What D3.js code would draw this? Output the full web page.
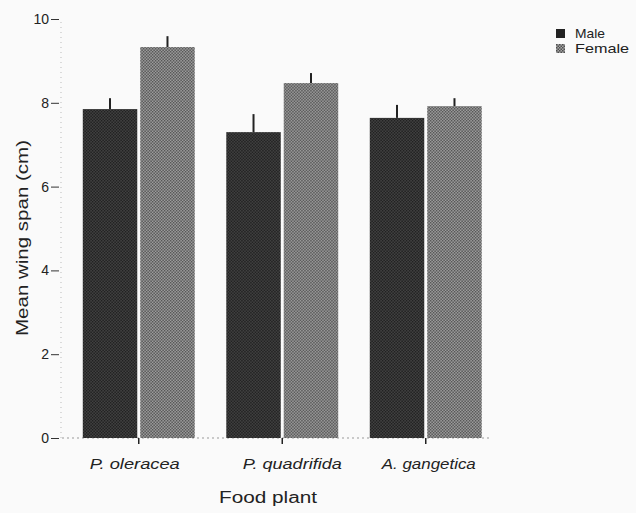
<!DOCTYPE html>
<html><head><meta charset="utf-8">
<script src="https://cdn.jsdelivr.net/npm/d3@7"></script>
<style>html,body{margin:0;padding:0;background:#fafafa;}svg{display:block;}</style>
</head><body>
<script>
const categories = ["P. oleracea", "P. quadrifida", "A. gangetica"];
const seriesNames = ["Male", "Female"];
const maleValues = [7.85, 7.30, 7.64];
const femaleValues = [9.33, 8.47, 7.92];
const maleErrors = [0.26, 0.43, 0.31];
const femaleErrors = [0.26, 0.24, 0.19];
const yTicks = [0, 2, 4, 6, 8, 10];

const W = 636, H = 513;
const svg = d3.select("body").append("svg").attr("width", W).attr("height", H)
  .style("font-family", "'Liberation Sans', Arial, sans-serif");

const defs = svg.append("defs");
function dotPattern(id, bg, dot) {
  const p = defs.append("pattern").attr("id", id).attr("patternUnits", "userSpaceOnUse")
    .attr("width", 3).attr("height", 3);
  p.append("rect").attr("width", 3).attr("height", 3).attr("fill", bg);
  p.append("rect").attr("x", 0).attr("y", 0).attr("width", 1.5).attr("height", 1.5).attr("fill", dot);
  p.append("rect").attr("x", 1.5).attr("y", 1.5).attr("width", 1.5).attr("height", 1.5).attr("fill", dot);
}
dotPattern("pMale", "#474747", "#1c1c1c");
dotPattern("pFemale", "#a6a6a6", "#4e4e4e");

const y = d3.scaleLinear().domain([0, 10]).range([438, 19]);
const x0 = d3.scaleBand().domain(categories).range([67, 497.5]).paddingInner(0.22).paddingOuter(0.11);
const x1 = d3.scaleBand().domain(seriesNames).range([0, x0.bandwidth()]).paddingInner(0.052);

const data = categories.map((c, i) => ({
  cat: c,
  vals: [
    {s: "Male", v: maleValues[i], e: maleErrors[i]},
    {s: "Female", v: femaleValues[i], e: femaleErrors[i]}
  ]
}));
const fillOf = s => s === "Male" ? "url(#pMale)" : "url(#pFemale)";

// baseline dotted
svg.append("line").attr("x1", 62).attr("x2", 492).attr("y1", y(0)).attr("y2", y(0))
  .attr("stroke", "#999").attr("stroke-width", 1).attr("stroke-dasharray", "2,3");
// y axis dotted
svg.append("line").attr("x1", 61).attr("x2", 61).attr("y1", y(0)).attr("y2", y(10))
  .attr("stroke", "#bbb").attr("stroke-width", 1).attr("stroke-dasharray", "1,4");

const g = svg.selectAll("g.cat").data(data).enter().append("g")
  .attr("transform", d => `translate(${x0(d.cat)},0)`);
g.selectAll("rect").data(d => d.vals).enter().append("rect")
  .attr("x", d => x1(d.s)).attr("width", x1.bandwidth())
  .attr("y", d => y(d.v)).attr("height", d => y(0) - y(d.v))
  .attr("fill", d => fillOf(d.s));
g.selectAll("line.err").data(d => d.vals).enter().append("line")
  .attr("class", "err")
  .attr("x1", d => x1(d.s) + x1.bandwidth() / 2).attr("x2", d => x1(d.s) + x1.bandwidth() / 2)
  .attr("y1", d => y(d.v)).attr("y2", d => y(d.v + d.e))
  .attr("stroke", "#222").attr("stroke-width", 2);

// y axis
const yAxis = d3.axisLeft(y).tickValues(yTicks).tickSize(8).tickPadding(2).tickFormat(d3.format("d"));
const ya = svg.append("g").attr("transform", "translate(59,0)").call(yAxis);
ya.select(".domain").remove();
ya.selectAll("line").attr("stroke", "#333");
ya.selectAll("text").attr("font-size", 14).attr("fill", "#222");

// x axis
const xa = svg.append("g");
xa.selectAll("line").data(categories).enter().append("line")
  .attr("x1", c => x0(c) + x0.bandwidth() / 2).attr("x2", c => x0(c) + x0.bandwidth() / 2)
  .attr("y1", y(0)).attr("y2", y(0) + 6).attr("stroke", "#222").attr("stroke-width", 1.5);
const labelLen = {"P. oleracea": 90, "P. quadrifida": 99, "A. gangetica": 94};
const labelShift = {"P. oleracea": -4, "P. quadrifida": 10, "A. gangetica": 3};
xa.selectAll("text").data(categories).enter().append("text")
  .attr("x", c => x0(c) + x0.bandwidth() / 2 + labelShift[c]).attr("y", 469)
  .attr("text-anchor", "middle").attr("font-size", 14).attr("font-style", "italic")
  .attr("textLength", c => labelLen[c]).attr("lengthAdjust", "spacingAndGlyphs")
  .attr("fill", "#222").text(c => c);

svg.append("text").attr("x", 268).attr("y", 503).attr("text-anchor", "middle")
  .attr("font-size", 16).attr("textLength", 98).attr("lengthAdjust", "spacingAndGlyphs")
  .attr("fill", "#222").text("Food plant");
svg.append("text").attr("transform", "translate(28,238) rotate(-90)").attr("text-anchor", "middle")
  .attr("font-size", 17).attr("textLength", 196).attr("lengthAdjust", "spacingAndGlyphs")
  .attr("fill", "#222").text("Mean wing span (cm)");

// legend
const legLen = {"Male": 30, "Female": 54};
const leg = svg.append("g").attr("transform", "translate(556,29)");
seriesNames.forEach((s, i) => {
  leg.append("rect").attr("x", 0).attr("y", i * 15).attr("width", 9).attr("height", 9)
    .attr("fill", s === "Male" ? "#222" : "url(#pFemale)");
  leg.append("text").attr("x", 19).attr("y", i * 15 + 9).attr("font-size", 13)
    .attr("textLength", legLen[s]).attr("lengthAdjust", "spacingAndGlyphs")
    .attr("fill", "#222").text(s);
});
</script>
</body></html>
